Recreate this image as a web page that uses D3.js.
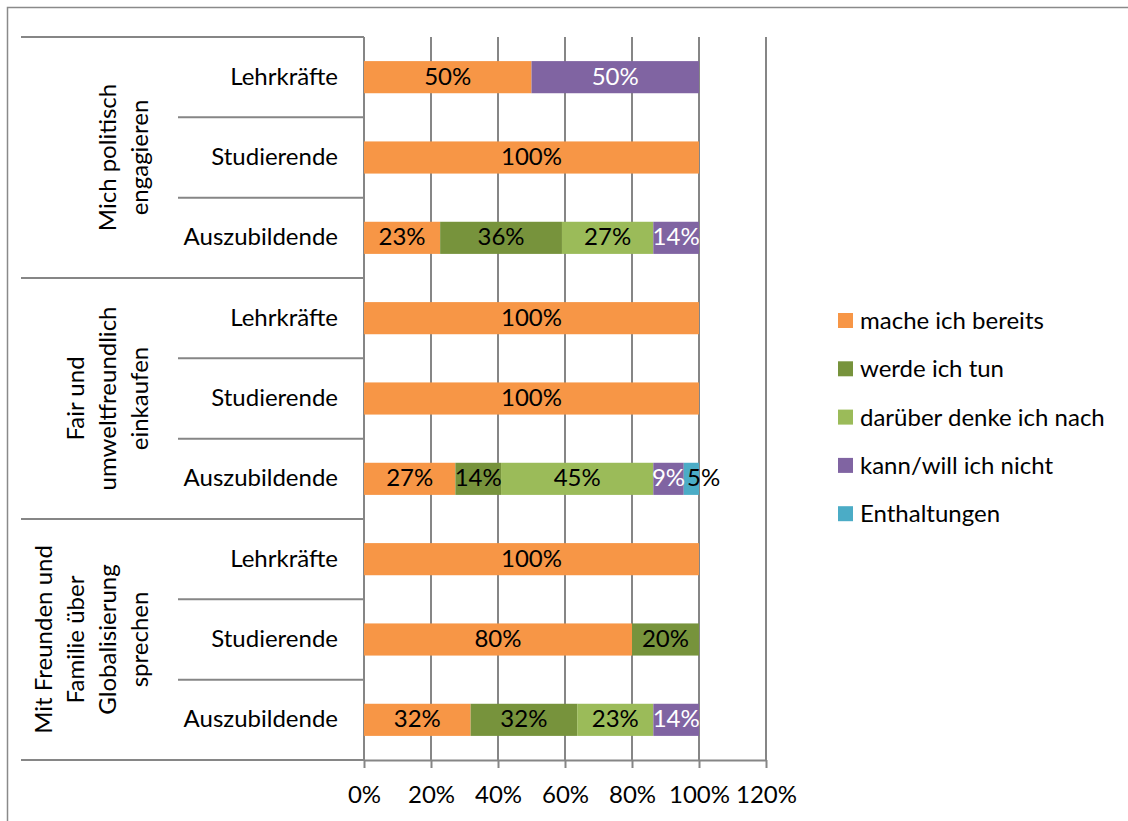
<!DOCTYPE html>
<html>
<head>
<meta charset="utf-8">
<script src="https://cdn.jsdelivr.net/npm/d3@7"></script>
<style>
  html, body { margin: 0; padding: 0; background: #fff; }
  svg { display: block; font-family: Lato, "Open Sans", sans-serif; }
</style>
</head>
<body>
<svg id="chart" width="1128" height="821"></svg>
<script>
// Statements (groups), each with three respondent categories, top to bottom
const groups = [
  ["Mich politisch", "engagieren"],
  ["Fair und", "umweltfreundlich", "einkaufen"],
  ["Mit Freunden und", "Familie über", "Globalisierung", "sprechen"]
];
const categories = ["Lehrkräfte", "Studierende", "Auszubildende"];

// Series shares in percent, one entry per row (3 groups x 3 categories)
const seriesNames = ["mache ich bereits", "werde ich tun", "darüber denke ich nach", "kann/will ich nicht", "Enthaltungen"];
const macheIchBereits    = [50, 100, 22.73, 100, 100, 27.27, 100, 80, 31.82];
const werdeIchTun        = [0, 0, 36.36, 0, 0, 13.64, 0, 20, 31.82];
const darueberNachdenken = [0, 0, 27.27, 0, 0, 45.45, 0, 0, 22.73];
const kannWillNicht      = [50, 0, 13.64, 0, 0, 9.09, 0, 0, 13.64];
const enthaltungen       = [0, 0, 0, 0, 0, 4.55, 0, 0, 0];

const xTicks = [0, 20, 40, 60, 80, 100, 120];
const colors = ["#F79646", "#77933C", "#9BBB59", "#8064A2", "#4BACC6"];
const labelColors = ["#000", "#000", "#000", "#fff", "#000"];

const seriesValues = [macheIchBereits, werdeIchTun, darueberNachdenken, kannWillNicht, enthaltungen];

const rows = [];
groups.forEach((g, gi) => categories.forEach((c, ci) => rows.push({ id: gi + "-" + ci, group: gi, cat: c })));

const svg = d3.select("#chart");
const fontSize = 24;
const gridColor = "#868686";
const textDy = -2;

// outer frame
svg.append("rect")
  .attr("x", 7.5).attr("y", 7.5).attr("width", 1200).attr("height", 900)
  .attr("fill", "none").attr("stroke", "#8a8a8a").attr("stroke-width", 1.5);

const x = d3.scaleLinear().domain([0, 120]).range([364, 766]);
const y = d3.scaleBand().domain(rows.map(r => r.id)).range([37, 760])
  .paddingInner(0.6).paddingOuter(0.3);
const step = y.step();
const plotTop = 37, plotBottom = 760;

// vertical gridlines
svg.append("g").selectAll("line").data(xTicks).join("line")
  .attr("x1", d => x(d)).attr("x2", d => x(d))
  .attr("y1", plotTop).attr("y2", plotBottom)
  .attr("stroke", gridColor).attr("stroke-width", 2);

// category separators: long ones between groups, short ones between categories
const seps = d3.range(rows.length + 1);
svg.append("g").selectAll("line").data(seps).join("line")
  .attr("x1", k => (k % 3 === 0 ? 21 : 178)).attr("x2", x(0))
  .attr("y1", k => plotTop + k * step).attr("y2", k => plotTop + k * step)
  .attr("stroke", gridColor).attr("stroke-width", 2);

// bottom value axis
const axis = svg.append("g").attr("transform", `translate(0,${plotBottom})`)
  .call(d3.axisBottom(x).tickValues(xTicks).tickFormat(d => d + "%").tickSizeInner(8).tickSizeOuter(0).tickPadding(18));
axis.select(".domain").attr("stroke", gridColor).attr("stroke-width", 2);
axis.selectAll(".tick line").attr("stroke", gridColor).attr("stroke-width", 2);
axis.selectAll(".tick text").attr("font-size", fontSize).attr("font-family", "Lato, sans-serif").attr("fill", "#000");

// stacked bars
const stacked = rows.map((r, i) => {
  let acc = 0;
  return seriesValues.map((vals, si) => {
    const v = vals[i];
    const seg = { row: r, si, v, x0: acc, x1: acc + v };
    acc += v;
    return seg;
  }).filter(s => s.v > 0);
});

const barG = svg.append("g");
stacked.forEach(segs => {
  barG.selectAll(null).data(segs).join("rect")
    .attr("x", d => x(d.x0)).attr("width", d => x(d.x1) - x(d.x0))
    .attr("y", d => y(d.row.id)).attr("height", y.bandwidth())
    .attr("fill", d => colors[d.si]);
});

// data labels, centred on each segment and pushed right if they would collide
const labelG = svg.append("g");
stacked.forEach(segs => {
  let prevRight = -Infinity;
  segs.forEach(d => {
    const t = labelG.append("text")
      .attr("font-size", fontSize)
      .attr("fill", labelColors[d.si])
      .attr("text-anchor", "middle")
      .attr("dominant-baseline", "central")
      .attr("y", y(d.row.id) + y.bandwidth() / 2 + textDy)
      .text(Math.round(d.v) + "%");
    const w = t.node().getComputedTextLength();
    let cx = (x(d.x0) + x(d.x1)) / 2;
    if (cx - w / 2 < prevRight + 2) cx = prevRight + 2 + w / 2;
    t.attr("x", cx);
    prevRight = cx + w / 2;
  });
});

// category labels
svg.append("g").selectAll("text").data(rows).join("text")
  .attr("x", 338).attr("y", d => y(d.id) + y.bandwidth() / 2 + textDy)
  .attr("text-anchor", "end").attr("dominant-baseline", "central")
  .attr("font-size", fontSize).attr("fill", "#000")
  .text(d => d.cat);

// rotated group labels, lines stacked toward the category labels
const lineGap = 32;
groups.forEach((lines, gi) => {
  const cy = plotTop + (gi * 3 + 1.5) * step;
  const n = lines.length;
  const g = svg.append("g").attr("transform", `translate(0,${cy}) rotate(-90)`);
  lines.forEach((ln, li) => {
    g.append("text")
      .attr("x", 0)
      .attr("y", 138 - (n - 1 - li) * lineGap)
      .attr("text-anchor", "middle").attr("dominant-baseline", "central")
      .attr("font-size", fontSize).attr("fill", "#000")
      .text(ln);
  });
});

// legend
const legend = svg.append("g").selectAll("g").data(seriesNames).join("g")
  .attr("transform", (d, i) => `translate(838,${320.5 + i * 48.3})`);
legend.append("rect").attr("x", 0).attr("y", -7.5).attr("width", 15).attr("height", 15)
  .attr("fill", (d, i) => colors[i]);
legend.append("text").attr("x", 22).attr("y", -1)
  .attr("dominant-baseline", "central").attr("font-size", fontSize).attr("fill", "#000")
  .text(d => d);
</script>
</body>
</html>
